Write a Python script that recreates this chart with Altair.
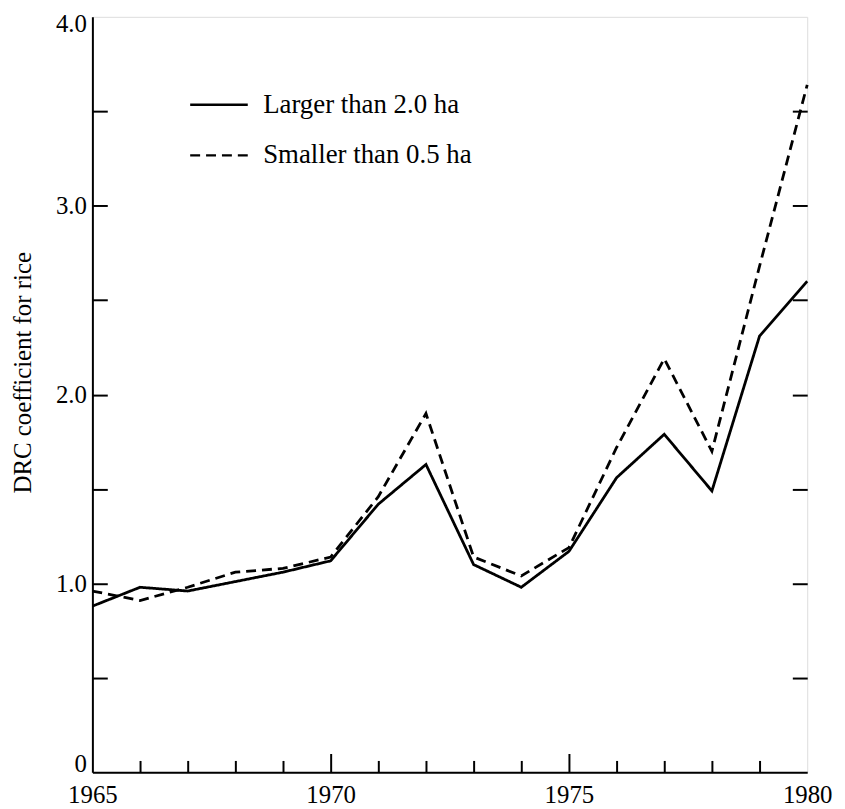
import altair as alt
import pandas as pd

# ---- data ----
years = list(range(1965, 1981))
larger = [0.88, 0.98, 0.96, 1.01, 1.06, 1.12, 1.42, 1.63, 1.10, 0.98, 1.17, 1.56, 1.79, 1.49, 2.31, 2.60]
smaller = [0.96, 0.91, 0.98, 1.06, 1.08, 1.14, 1.46, 1.90, 1.14, 1.04, 1.19, 1.72, 2.19, 1.70, 2.68, 3.64]
series_names = ["Larger than 2.0 ha", "Smaller than 0.5 ha"]

x_label_values = [1965, 1970, 1975, 1980]
x_tick_values = list(range(1966, 1980))
y_label_values = [0, 1, 2, 3, 4]
y_tick_values = [0.5, 1.0, 1.5, 2.0, 2.5, 3.0, 3.5]

df = pd.DataFrame({
    "year": years * 2,
    "value": larger + smaller,
    "series": [series_names[0]] * len(years) + [series_names[1]] * len(years),
})

W, H = 720, 761
FONT = "Liberation Serif"

xscale = alt.Scale(domain=[1965, 1980], nice=False, zero=False)
yscale = alt.Scale(domain=[0, 4], nice=False, zero=True)

base = alt.Chart(df)

lines = base.mark_line(color="black", strokeWidth=2.8).encode(
    x=alt.X("year:Q", scale=xscale,
            axis=alt.Axis(values=x_label_values, format="d", tickSize=0, labelPadding=10,
                          labelFont=FONT, labelFontSize=25, labelColor="black",
                          domainColor="black", domainWidth=2, grid=False, title=None,
                          labelFlush=False)),
    y=alt.Y("value:Q", scale=yscale,
            axis=alt.Axis(values=y_label_values,
                          labelExpr="datum.value == 0 ? '0' : format(datum.value, '.1f')",
                          labelOffset={"condition": [
                              {"test": "datum.value === 0", "value": -9},
                              {"test": "datum.value === 4", "value": 7}],
                              "value": 0},
                          tickSize=0, labelPadding=6, labelFont=FONT, labelFontSize=25,
                          labelColor="black", domainColor="black", domainWidth=2, grid=False,
                          title="DRC coefficient for rice", titleFont=FONT, titleFontSize=25,
                          titleFontWeight="normal", titleColor="black",
                          titleX=-62, titleY=358, titleBaseline="alphabetic",
                          labelFlush=False)),
    strokeDash=alt.StrokeDash(
        "series:N",
        scale=alt.Scale(domain=series_names, range=[[1, 0], [10, 6]]),
        legend=alt.Legend(title=None, orient="none", legendX=97, legendY=58,
                          symbolType="stroke", symbolSize=3364, symbolStrokeWidth=2.4,
                          symbolStrokeColor="black", labelFont=FONT, labelFontSize=27,
                          labelColor="black", labelOffset=14, rowPadding=7, padding=0,
                          labelLimit=400),
    ),
)

# inward ticks: bottom edge and right edge
ticks_a = base.mark_point(opacity=0).encode(
    x=alt.X("year:Q", scale=xscale,
            axis=alt.Axis(orient="top", offset=-H, values=x_tick_values, labels=False,
                          domain=False, grid=False, title=None, tickColor="black", tickWidth=2,
                          tickSize={"condition": {"test": "datum.value % 5 === 0", "value": 19},
                                    "value": 12})),
    y=alt.Y("value:Q", scale=yscale,
            axis=alt.Axis(orient="right", offset=-W, values=y_tick_values, labels=False,
                          domain=False, grid=False, title=None, tickColor="black",
                          tickWidth=2, tickSize=15)),
)

# inward ticks: left edge
ticks_b = base.mark_point(opacity=0).encode(
    x=alt.X("year:Q", scale=xscale, axis=None),
    y=alt.Y("value:Q", scale=yscale,
            axis=alt.Axis(orient="left", offset=-W, values=y_tick_values, labels=False,
                          domain=False, grid=False, title=None, tickColor="black",
                          tickWidth=2, tickSize=15)),
)

chart = (
    alt.layer(lines, ticks_a, ticks_b)
    .resolve_axis(x="independent", y="independent")
    .properties(width=W, height=H,
                padding={"left": 85, "top": 6, "right": 30, "bottom": 34},
                autosize=alt.AutoSizeParams(type="none"))
    .configure_view(stroke="black", strokeWidth=2)
    .configure(background="white")
)

chart.save("out.html", embed_options={"renderer": "svg", "actions": False})
